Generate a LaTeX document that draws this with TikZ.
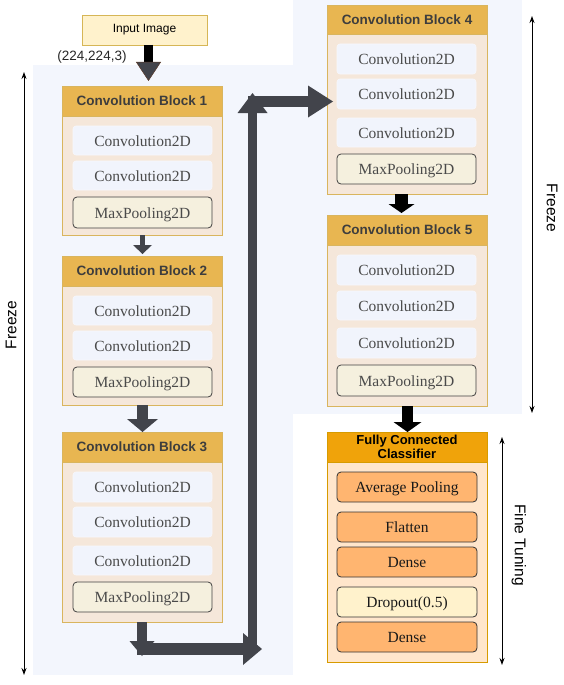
\documentclass[tikz,border=0pt]{standalone}
\usepackage{fontspec}
\setmainfont{Liberation Serif}
\setsansfont{Liberation Sans}
\usetikzlibrary{arrows.meta}
\definecolor{panel}{HTML}{F3F6FD}
\definecolor{headfill}{HTML}{E8B651}
\definecolor{gold}{HTML}{D9B55E}
\definecolor{bodyfill}{HTML}{F5E7DA}
\definecolor{convfill}{HTML}{F1F4FC}
\definecolor{poolfill}{HTML}{F5F0DE}
\definecolor{darkline}{HTML}{404040}
\definecolor{headtext}{HTML}{3D3D3D}
\definecolor{convtext}{HTML}{4A4A4A}
\definecolor{fchead}{HTML}{F0A30A}
\definecolor{fcline}{HTML}{D79B00}
\definecolor{fcbody}{HTML}{FFE6CC}
\definecolor{orangebox}{HTML}{FFB570}
\definecolor{dropfill}{HTML}{FFF2CC}
\definecolor{arrowgray}{HTML}{42444B}
\definecolor{brownline}{HTML}{5A3A2A}
\definecolor{inputline}{HTML}{D6B656}
\begin{document}
\begin{tikzpicture}[x=1pt,y=-1pt,
  box/.style={anchor=north west, inner sep=0pt, outer sep=0pt, align=center},
  serifline/.style={text height=12pt, text depth=0.5pt},
  head/.style={box, fill=headfill, draw=gold, line width=0.8pt, minimum width=160pt, minimum height=#1, text=headtext, font=\sffamily\bfseries\fontsize{13.5}{15}\selectfont},
  head/.default=30pt,
  blockbody/.style={box, fill=bodyfill, draw=gold, line width=0.8pt, minimum width=160pt, minimum height=#1},
  convbox/.style={box, serifline, fill=convfill, draw=convfill!60!white, line width=0.6pt, rounded corners=3pt, minimum width=139pt, minimum height=#1, text=convtext, font=\fontsize{15.5}{17}\selectfont},
  poolbox/.style={box, serifline, fill=poolfill, draw=darkline, line width=0.8pt, rounded corners=4pt, minimum width=139pt, minimum height=#1, text=convtext, font=\fontsize{15.5}{17}\selectfont},
  fcbox/.style={box, serifline, fill=orangebox, draw=darkline!80!black, line width=0.8pt, rounded corners=4pt, minimum width=140pt, minimum height=30pt, text=black!90, font=\fontsize{15.5}{17}\selectfont},
  dropbox/.style={fcbox, fill=dropfill},
  grayarrow/.style={draw=arrowgray, line width=#1},
  blackarrow/.style={draw=black, line width=#1},
  span/.style={line width=0.9pt, {Stealth[length=7pt,width=5pt]}-{Stealth[length=7pt,width=5pt]}},
  sidelabel/.style={font=\sffamily\fontsize{15.5}{17}\selectfont, inner sep=0pt}
]
\useasboundingbox (0,0) rectangle (564,685);
% background panels
\fill[panel] (33,65) rectangle (293,675);
\fill[panel] (293,0) rectangle (522,414);

% input
\node[box, fill=dropfill, draw=inputline, line width=0.8pt, minimum width=125pt, minimum height=30pt, font=\sffamily\fontsize{12}{14}\selectfont] (in) at (82,15) {Input Image};
\node[sidelabel, font=\sffamily\fontsize{13.5}{15}\selectfont, text=black!85] (shape) at (92,57) {(224,224,3)};

% Block 1
\node[blockbody=119pt] (b1) at (62,116) {};
\node[head] (h1) at (62,86) {Convolution Block 1};
\node[convbox=29pt] (b1c1) at (73,126) {Convolution2D};
\node[convbox=29pt] (b1c2) at (73,161) {Convolution2D};
\node[poolbox=31pt] (b1p) at (73,197) {MaxPooling2D};

% Block 2
\node[blockbody=119pt] (b2) at (62,286) {};
\node[head] (h2) at (62,256) {Convolution Block 2};
\node[convbox=29pt] (b2c1) at (73,296) {Convolution2D};
\node[convbox=29pt] (b2c2) at (73,331) {Convolution2D};
\node[poolbox=30pt] (b2p) at (73,367) {MaxPooling2D};

% Block 3
\node[blockbody=160pt] (b3) at (62,462) {};
\node[head] (h3) at (62,432) {Convolution Block 3};
\node[convbox=30pt] (b3c1) at (73,472) {Convolution2D};
\node[convbox=30pt] (b3c2) at (73,507) {Convolution2D};
\node[convbox=29pt] (b3c3) at (73,546) {Convolution2D};
\node[poolbox=30pt] (b3p) at (73,582) {MaxPooling2D};

% Block 4
\node[blockbody=160pt] (b4) at (327,34) {};
\node[head=29pt] (h4) at (327,5) {Convolution Block 4};
\node[convbox=30pt] (b4c1) at (337,44) {Convolution2D};
\node[convbox=30pt] (b4c2) at (337,79) {Convolution2D};
\node[convbox=29pt] (b4c3) at (337,118) {Convolution2D};
\node[poolbox=30pt] (b4p) at (337,154) {MaxPooling2D};

% Block 5
\node[blockbody=161pt] (b5) at (327,245) {};
\node[head] (h5) at (327,215) {Convolution Block 5};
\node[convbox=30pt] (b5c1) at (337,255) {Convolution2D};
\node[convbox=29pt] (b5c2) at (337,291) {Convolution2D};
\node[convbox=30pt] (b5c3) at (337,328) {Convolution2D};
\node[poolbox=31pt] (b5p) at (337,365) {MaxPooling2D};

% Fully connected classifier
\node[box, fill=fcbody, draw=fcline, line width=0.8pt, minimum width=160pt, minimum height=200pt] (fc) at (327,462) {};
\node[box, fill=fchead, draw=fcline, line width=0.8pt, minimum width=160pt, minimum height=30pt, text=black, font=\sffamily\bfseries\fontsize{13}{14}\selectfont] (hfc) at (327,432) {Fully Connected\\Classifier};
\node[fcbox] (avg) at (337,472) {Average Pooling};
\node[fcbox] (flat) at (337,512) {Flatten};
\node[fcbox] (dense1) at (337,547) {Dense};
\node[dropbox] (drop) at (337,587) {Dropout(0.5)};
\node[fcbox] (dense2) at (337,622) {Dense};

% arrows
\draw[blackarrow=9pt, -{Triangle[width=25pt,length=19pt,line width=0.5pt,fill=arrowgray,color=brownline]}] ([xshift=4pt]in.south) -- ([xshift=6.5pt,yshift=5pt]h1.north);
\draw[grayarrow=5pt, -{Triangle[width=19pt,length=9pt,line width=0pt]}] ([xshift=0.5pt]b1.south) -- ([xshift=0.5pt,yshift=2pt]h2.north);
\draw[grayarrow=11pt, -{Triangle[width=31pt,length=13pt,line width=0pt]}] ([xshift=0.5pt]b2.south) -- ([xshift=0.5pt]h3.north);

\coordinate (c3down) at (142,656);
\coordinate (c3left) at (137,649);
\coordinate (c3right) at (262,649);
\coordinate (vbot) at (252.5,651);
\coordinate (vtop) at (252.5,93);
\coordinate (hleft) at (248,101.5);
\coordinate (b4in) at (333,101.5);

\draw[grayarrow=9pt, -{Triangle[width=30pt,length=20pt,line width=0pt]}] (vbot) -- (vtop);
\draw[grayarrow=11pt, -{Triangle[width=32pt,length=25pt,line width=0pt]}] (hleft) -- (b4in);
\draw[grayarrow=10pt, -{Triangle[width=25pt,length=15pt,line width=0pt]}] (b3.south) -- (c3down);
\draw[grayarrow=12pt, -{Triangle[width=32pt,length=19pt,line width=0pt]}] (c3left) -- (c3right);

\draw[blackarrow=13pt, -{Triangle[width=26pt,length=9pt,line width=0pt]}] ([xshift=-5.5pt]b4.south) -- ([xshift=-5.5pt,yshift=2pt]h5.north);
\draw[blackarrow=11pt, -{Triangle[width=28pt,length=10pt,line width=0pt]}] ([xshift=0.5pt]b5.south) -- ([xshift=0.5pt]hfc.north);

% span arrows and labels
\coordinate (fzLtop) at (24,72);
\coordinate (fzLbot) at (24,675);
\coordinate (fzRtop) at (532,16);
\coordinate (fzRbot) at (532,413);
\coordinate (ftTop) at (502,437);
\coordinate (ftBot) at (502,665);
\draw[span] (fzLtop) -- (fzLbot);
\draw[span] (fzRtop) -- (fzRbot);
\draw[span] (ftTop) -- (ftBot);
\node[sidelabel, rotate=90] (fzL) at (11,325) {Freeze};
\node[sidelabel, rotate=-90] (fzR) at (552,208) {Freeze};
\node[sidelabel, rotate=-90] (ft) at (519,545) {Fine Tuning};
\end{tikzpicture}
\end{document}
